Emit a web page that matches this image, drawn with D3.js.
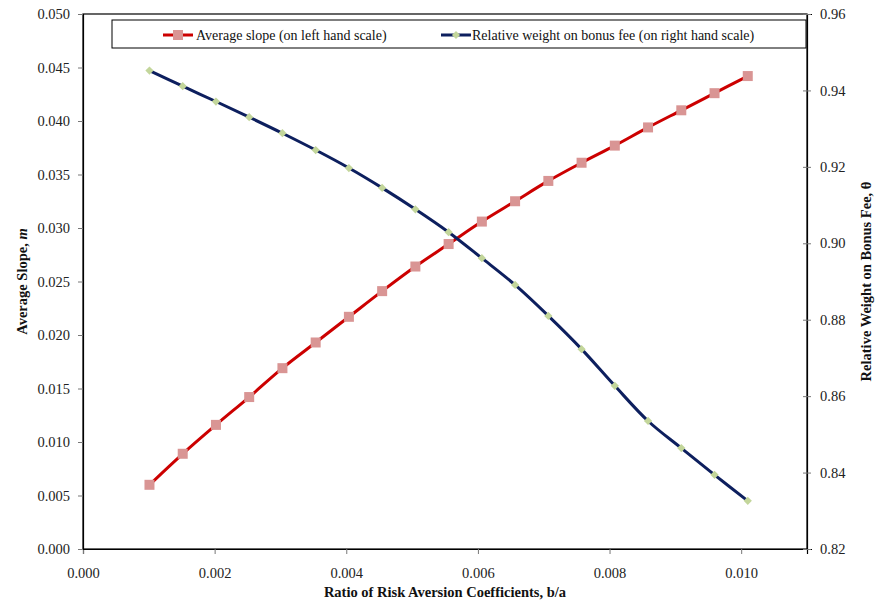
<!DOCTYPE html>
<html>
<head>
<meta charset="utf-8">
<script src="https://cdn.jsdelivr.net/npm/d3@7"></script>
<style>
  body { margin: 0; background: #fff; }
  svg text { font-family: "Liberation Serif", "Times New Roman", Tinos, "DejaVu Serif", serif !important; }
  .title { font-size: 14.5px; font-weight: bold; fill: #111; }
  .leg { font-size: 14px; fill: #111; }
</style>
</head>
<body>
<div id="chart"></div>
<script>
// data
const ratio = [0.00101, 0.001515, 0.00202, 0.002525, 0.00303, 0.003535, 0.00404, 0.004545, 0.00505,
  0.005555, 0.00606, 0.006565, 0.00707, 0.007575, 0.00808, 0.008585, 0.00909, 0.009595, 0.0101];
const avgSlope = [0.0060, 0.0089, 0.0116, 0.0142, 0.0169, 0.0193, 0.0217, 0.0241, 0.0264,
  0.0285, 0.0306, 0.0325, 0.0344, 0.0361, 0.0377, 0.0394, 0.0410, 0.0426, 0.0442];
const bonusWeight = [0.9452, 0.9411, 0.9371, 0.9330, 0.9288, 0.9244, 0.9197, 0.9145, 0.9089,
  0.9029, 0.8961, 0.8891, 0.8810, 0.8723, 0.8627, 0.8535, 0.8464, 0.8394, 0.8326];
const xTicks = [0, 0.002, 0.004, 0.006, 0.008, 0.010];
const leftTicks = [0, 0.005, 0.010, 0.015, 0.020, 0.025, 0.030, 0.035, 0.040, 0.045, 0.050];
const rightTicks = [0.82, 0.84, 0.86, 0.88, 0.90, 0.92, 0.94, 0.96];

const width = 888, height = 603;
const margin = { top: 14, right: 81, bottom: 54, left: 83 };

const svg = d3.select("#chart").append("svg")
  .attr("width", width)
  .attr("height", height);

const x = d3.scaleLinear().domain([0, 0.011]).range([margin.left, width - margin.right]);
const yL = d3.scaleLinear().domain([0, 0.05]).range([height - margin.bottom, margin.top]);
const yR = d3.scaleLinear().domain([0.82, 0.96]).range([height - margin.bottom, margin.top]);

// plot frame
svg.append("rect")
  .attr("x", margin.left).attr("y", margin.top)
  .attr("width", x.range()[1] - margin.left)
  .attr("height", yL.range()[0] - margin.top)
  .attr("fill", "none").attr("stroke", "#000").attr("stroke-width", 1.2);

// axes
const gx = svg.append("g")
  .attr("transform", `translate(0,${height - margin.bottom})`)
  .call(d3.axisBottom(x).tickValues(xTicks).tickFormat(d3.format(".3f")).tickSize(5).tickPadding(14));
const gl = svg.append("g")
  .attr("transform", `translate(${margin.left},0)`)
  .call(d3.axisLeft(yL).tickValues(leftTicks).tickFormat(d3.format(".3f")).tickSize(5).tickPadding(8));
const gr = svg.append("g")
  .attr("transform", `translate(${width - margin.right},0)`)
  .call(d3.axisRight(yR).tickValues(rightTicks).tickFormat(d3.format(".2f")).tickSize(5).tickPadding(8));
[gx, gl, gr].forEach(g => {
  g.attr("font-family", null).attr("font-size", 14.5);
  g.select(".domain").attr("stroke", "#000").attr("stroke-width", 1.2);
  g.selectAll(".tick line").attr("stroke", "#777");
  g.selectAll(".tick text").attr("fill", "#222");
});
gr.selectAll(".tick line").attr("x1", -4).attr("x2", 4);

// axis titles
svg.append("text").attr("class", "title")
  .attr("x", (margin.left + width - margin.right) / 2).attr("y", 597)
  .attr("text-anchor", "middle")
  .text("Ratio of Risk Aversion Coefficients, b/a");
const lt = svg.append("text").attr("class", "title")
  .attr("transform", `translate(27,${(margin.top + height - margin.bottom) / 2}) rotate(-90)`)
  .attr("text-anchor", "middle");
lt.append("tspan").text("Average Slope, ");
lt.append("tspan").attr("font-style", "italic").text("m");
svg.append("text").attr("class", "title")
  .attr("transform", `translate(871,${(margin.top + height - margin.bottom) / 2}) rotate(-90)`)
  .attr("text-anchor", "middle")
  .text("Relative Weight on Bonus Fee, θ");

const curve = d3.curveCatmullRom.alpha(0.5);

// average slope series (left scale)
const slopeData = ratio.map((r, i) => [r, avgSlope[i]]);
svg.append("path")
  .datum(slopeData)
  .attr("fill", "none").attr("stroke", "#CC0000").attr("stroke-width", 3)
  .attr("d", d3.line().x(d => x(d[0])).y(d => yL(d[1])).curve(curve));
svg.selectAll(".sq").data(slopeData).join("rect")
  .attr("class", "sq")
  .attr("x", d => x(d[0]) - 5).attr("y", d => yL(d[1]) - 5)
  .attr("width", 10).attr("height", 10)
  .attr("fill", "#D99594");

// bonus weight series (right scale)
const weightData = ratio.map((r, i) => [r, bonusWeight[i]]);
svg.append("path")
  .datum(weightData)
  .attr("fill", "none").attr("stroke", "#0D1F5E").attr("stroke-width", 3)
  .attr("d", d3.line().x(d => x(d[0])).y(d => yR(d[1])).curve(curve));
svg.selectAll(".dm").data(weightData).join("path")
  .attr("class", "dm")
  .attr("transform", d => `translate(${x(d[0])},${yR(d[1])}) rotate(45)`)
  .attr("d", d3.symbol().type(d3.symbolSquare).size(34))
  .attr("fill", "#C3D69B");

// legend
const leg = svg.append("g");
leg.append("rect")
  .attr("x", 112).attr("y", 20).attr("width", 694).attr("height", 28)
  .attr("fill", "#fff").attr("stroke", "#000").attr("stroke-width", 1);
leg.append("line").attr("x1", 163).attr("x2", 193).attr("y1", 35).attr("y2", 35)
  .attr("stroke", "#CC0000").attr("stroke-width", 3);
leg.append("rect").attr("x", 173).attr("y", 30).attr("width", 10).attr("height", 10).attr("fill", "#D99594");
leg.append("text").attr("class", "leg").attr("x", 196).attr("y", 40)
  .text("Average slope (on left hand scale)");
leg.append("line").attr("x1", 441).attr("x2", 471).attr("y1", 35).attr("y2", 35)
  .attr("stroke", "#0D1F5E").attr("stroke-width", 3);
leg.append("path").attr("transform", "translate(456,35) rotate(45)")
  .attr("d", d3.symbol().type(d3.symbolSquare).size(34)).attr("fill", "#C3D69B");
leg.append("text").attr("class", "leg").attr("x", 472).attr("y", 40)
  .text("Relative weight on bonus fee (on right hand scale)");
</script>
</body>
</html>
